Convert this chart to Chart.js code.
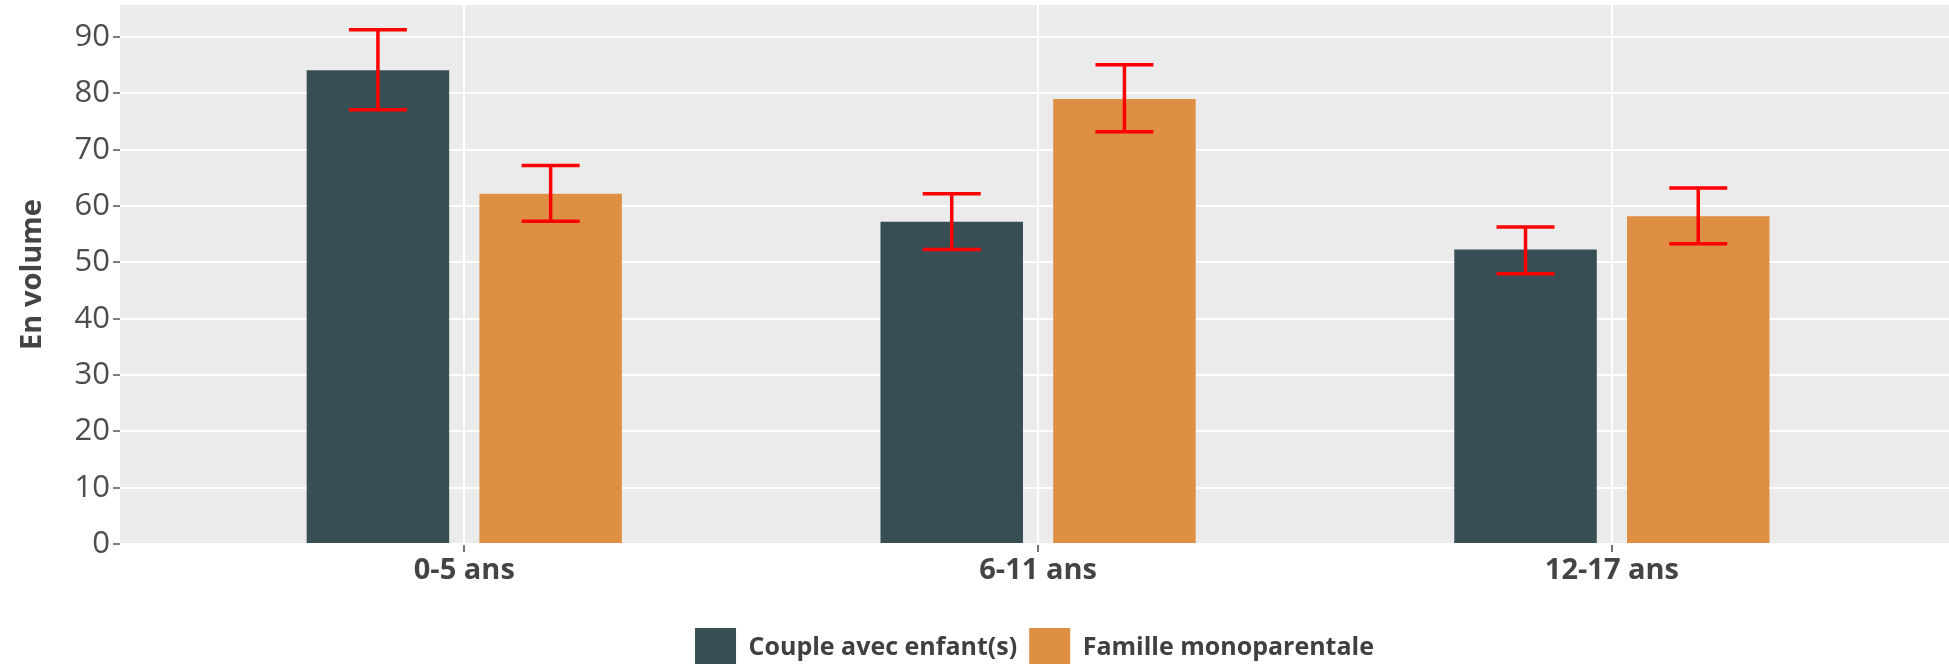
<!doctype html>
<html>
<head>
<meta charset="utf-8">
<title>En volume par âge</title>
<style>
  html, body { margin: 0; padding: 0; background: #fff; overflow: hidden; }
  #wrap { width: 1949px; height: 664px; overflow: hidden; }
</style>
</head>
<body>
<div id="wrap">
  <canvas id="chart" width="1949" height="678"></canvas>
</div>
<script src="https://cdn.jsdelivr.net/npm/chart.js"></script>
<script>
// categories and series
const categories = ['0-5 ans', '6-11 ans', '12-17 ans'];
const seriesNames = ['Couple avec enfant(s)', 'Famille monoparentale'];
const coupleValues = [84.1, 57.2, 52.3];
const coupleLow = [77.1, 52.3, 48.0];
const coupleHigh = [91.3, 62.2, 56.3];
const monoValues = [62.2, 79.0, 58.2];
const monoLow = [57.3, 73.2, 53.3];
const monoHigh = [67.2, 85.1, 63.2];
const yTickLabels = [0, 10, 20, 30, 40, 50, 60, 70, 80, 90];

const colors = ['#374E55', '#DF8F44'];
const lows = [coupleLow, monoLow];
const highs = [coupleHigh, monoHigh];

function toPoints(vals) {
  return vals.map((v, i) => ({ x: i, y: v }));
}

// grey panel behind the bars
const panelBg = {
  id: 'panelBg',
  beforeDraw(chart) {
    const { ctx, chartArea: a } = chart;
    ctx.save();
    ctx.fillStyle = '#EBEBEB';
    ctx.fillRect(a.left, a.top, a.right - a.left, a.bottom - a.top);
    ctx.restore();
  }
};

// red error bars
const errorBars = {
  id: 'errorBars',
  afterDatasetsDraw(chart) {
    const { ctx } = chart;
    const y = chart.scales.y;
    ctx.save();
    ctx.strokeStyle = '#FF0000';
    ctx.lineWidth = 3.5;
    chart.data.datasets.forEach((ds, d) => {
      chart.getDatasetMeta(d).data.forEach((bar, i) => {
        const yl = y.getPixelForValue(lows[d][i]);
        const yh = y.getPixelForValue(highs[d][i]);
        const x = bar.x, w = 29;
        ctx.beginPath();
        ctx.moveTo(x, yl); ctx.lineTo(x, yh);
        ctx.moveTo(x - w, yl); ctx.lineTo(x + w, yl);
        ctx.moveTo(x - w, yh); ctx.lineTo(x + w, yh);
        ctx.stroke();
      });
    });
    ctx.restore();
  }
};

const ctx = document.getElementById('chart').getContext('2d');
const chart = new Chart(ctx, {
  type: 'bar',
  data: {
    datasets: [{
      label: seriesNames[0],
      data: toPoints(coupleValues),
      backgroundColor: colors[0],
      borderWidth: 0
    }, {
      label: seriesNames[1],
      data: toPoints(monoValues),
      backgroundColor: colors[1],
      borderWidth: 0
    }]
  },
  options: {
    responsive: false,
    animation: false,
    devicePixelRatio: 1,
    categoryPercentage: 0.602,
    barPercentage: 0.825,
    layout: { padding: { top: 5, left: 0, right: 0, bottom: 0 } },
    plugins: {
      tooltip: { enabled: false },
      legend: {
        position: 'bottom',
        fullSize: false,
        labels: {
          boxWidth: 41,
          boxHeight: 40,
          padding: 12,
          color: '#404040',
          font: { family: 'Open Sans', size: 25, weight: 'bold' }
        }
      }
    },
    scales: {
      x: {
        type: 'linear',
        offset: false,
        min: -0.6,
        max: 2.5875,
        afterBuildTicks(s) {
          s.ticks = categories.map((c, i) => ({ value: i }));
        },
        afterFit(s) {
          s.height = 72;
          s.paddingLeft = 0;
          s.paddingRight = 0;
        },
        border: { display: false },
        grid: {
          offset: false,
          color: '#ffffff',
          lineWidth: 2,
          tickLength: 8,
          tickColor: '#444',
          tickWidth: 1.5
        },
        ticks: {
          autoSkip: false,
          maxRotation: 0,
          padding: 1,
          color: '#444',
          font: { family: 'Open Sans', size: 29, weight: 'bold' },
          callback: (v) => categories[v]
        }
      },
      y: {
        min: 0,
        max: 95.7,
        afterFit(s) {
          s.width = 120;
          s.paddingTop = 0;
          s.paddingBottom = 0;
        },
        border: { display: false },
        grid: {
          color: '#ffffff',
          lineWidth: (c) => (c.tick && c.tick.value % 10 === 0 ? 2 : 1.5),
          tickLength: 7,
          tickWidth: 1.5,
          tickColor: (c) => (c.tick && yTickLabels.includes(c.tick.value) ? '#555' : 'rgba(0,0,0,0)')
        },
        ticks: {
          stepSize: 5,
          padding: 3,
          color: '#4d4d4d',
          font: { family: 'Open Sans', size: 31 },
          callback: (v) => (yTickLabels.includes(v) ? String(v) : '')
        },
        title: {
          display: true,
          text: 'En volume',
          color: '#444',
          padding: { top: 15, bottom: 0 },
          font: { family: 'Open Sans', size: 29, weight: 'bold' }
        }
      }
    }
  },
  plugins: [panelBg, errorBars]
});
</script>
</body>
</html>
